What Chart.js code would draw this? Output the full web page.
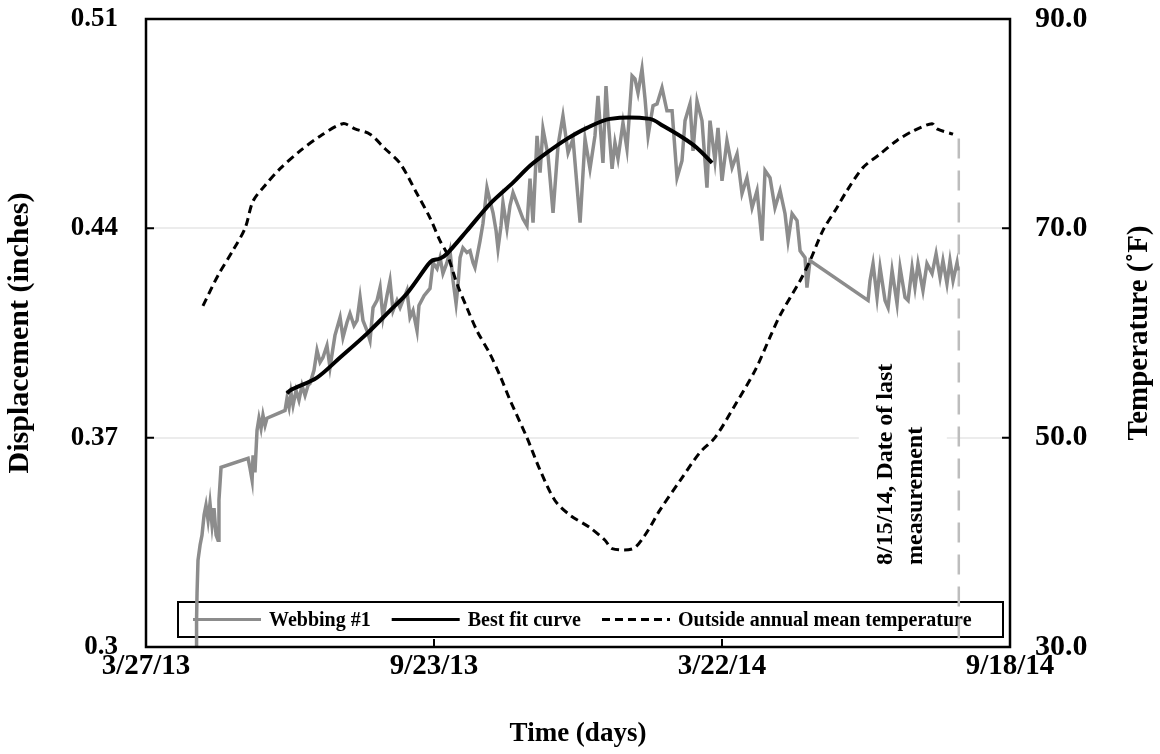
<!DOCTYPE html>
<html>
<head>
<meta charset="utf-8">
<script src="https://cdn.jsdelivr.net/npm/chart.js@4.4.1/dist/chart.umd.min.js"></script>
<style>
  html, body { margin: 0; padding: 0; background: #fff; }
  #wrap { width: 1160px; height: 754px; }
</style>
</head>
<body>
<div id="wrap"><canvas id="chart"></canvas></div>
<script>
// x values are days counted from 3/27/13
const xTickDays = [0, 180, 360, 540];
const xTickLabels = ['3/27/13', '9/23/13', '3/22/14', '9/18/14'];
const yTicks = [0.3, 0.37, 0.44, 0.51];
const y1Ticks = [30, 50, 70, 90];

// Webbing #1 displacement (inches)
const webDays = [
    31.3, 31.6, 31.9, 32.5, 33.8, 35.0, 36.3, 37.5, 38.8, 40.0, 41.3, 42.5, 43.8, 45.0, 45.6, 46.9,
    63.8, 65.0, 66.3, 66.9, 68.1, 69.4, 70.6, 71.9, 73.1, 74.4, 75.6,
    86.9, 88.1, 89.4, 90.6, 91.9, 93.8, 95.6, 97.5, 99.4, 101.3, 102.5,
    105.0, 106.9, 108.8, 110.6, 113.1, 115.0, 118.1, 121.3, 123.1, 125.6, 127.5, 130.0, 131.9, 133.8, 135.6, 138.1, 140.0,
    141.9, 144.4, 146.3, 148.1, 150.6, 152.5, 154.4, 156.9, 158.8, 160.6, 163.1, 165.0, 166.9, 169.4, 170.6, 173.8, 177.5,
    179.4, 181.9, 183.8, 185.6, 188.1, 190.0, 191.9, 193.8, 195.0, 196.3, 198.1, 200.6, 202.5, 204.4, 205.6,
    208.8, 210.6, 213.1, 215.0, 216.9, 218.8, 220.0, 221.9, 223.1, 225.6, 227.5, 229.4, 232.5, 235.6, 238.1,
    240.0, 241.9, 244.4, 246.3, 248.1, 251.3, 254.4, 257.5, 260.6, 263.8, 266.9, 271.3, 274.4, 277.5, 280.6,
    282.5, 285.6, 287.5, 288.8, 291.3, 293.1, 295.0, 298.1, 300.6, 303.8, 305.6, 307.5, 310.0, 311.9, 313.8,
    315.0, 316.9, 319.4, 322.5, 325.6, 328.8, 331.9, 335.0, 336.9, 340.0, 341.9, 344.4, 347.5, 350.6, 352.5,
    355.6, 357.5, 360.0, 363.1, 366.3, 369.4, 372.5, 375.6, 378.8, 381.9, 385.0, 386.9, 390.0, 393.1, 396.3,
    399.4, 401.3, 403.8, 406.9, 408.8, 411.9, 413.1, 415.0,
    451.3, 452.5, 454.4, 456.9, 458.8, 461.9, 463.8, 466.3, 469.4, 471.3, 474.4, 476.3, 478.8,
    480.6, 482.5, 485.6, 488.1, 491.3, 493.8, 496.3, 498.1, 500.6, 502.5, 504.4, 506.9, 507.5
];
const webDisp = [
    0.3000, 0.3090, 0.3180, 0.3290, 0.3341, 0.3374, 0.3441, 0.3474, 0.3424, 0.3481, 0.3407, 0.3464, 0.3374, 0.3357, 0.3491, 0.3601,
    0.3631, 0.3598, 0.3558, 0.3641, 0.3584, 0.3725, 0.3765, 0.3731, 0.3775, 0.3741, 0.3765,
    0.3791, 0.3831, 0.3801, 0.3851, 0.3808, 0.3858, 0.3825, 0.3875, 0.3841, 0.3875, 0.3881,
    0.3925, 0.3992, 0.3952, 0.3968, 0.4008, 0.3935, 0.4042, 0.4102, 0.4035, 0.4085, 0.4115, 0.4075, 0.4092, 0.4169, 0.4092, 0.4058, 0.4025,
    0.4135, 0.4159, 0.4202, 0.4102, 0.4175, 0.4225, 0.4125, 0.4159, 0.4135, 0.4159, 0.4192, 0.4102, 0.4125, 0.4058, 0.4142, 0.4175, 0.4199,
    0.4285, 0.4265, 0.4302, 0.4249, 0.4285, 0.4325, 0.4225, 0.4148, 0.4209, 0.4302, 0.4335, 0.4319, 0.4325, 0.4285, 0.4269,
    0.4359, 0.4416, 0.4536, 0.4492, 0.4452, 0.4392, 0.4332, 0.4409, 0.4486, 0.4399, 0.4476, 0.4519, 0.4476, 0.4432, 0.4409,
    0.4566, 0.4419, 0.4709, 0.4586, 0.4733, 0.4643, 0.4452, 0.4676, 0.4776, 0.4653, 0.4699, 0.4419, 0.4699, 0.4599, 0.4709,
    0.4843, 0.4619, 0.4876, 0.4766, 0.4599, 0.4686, 0.4633, 0.4753, 0.4666, 0.4910, 0.4900, 0.4853, 0.4933, 0.4833, 0.4709,
    0.4749, 0.4810, 0.4816, 0.4870, 0.4793, 0.4793, 0.4569, 0.4626, 0.4760, 0.4816, 0.4659, 0.4826, 0.4760, 0.4536, 0.4760,
    0.4626, 0.4736, 0.4559, 0.4693, 0.4603, 0.4649, 0.4516, 0.4569, 0.4469, 0.4526, 0.4359, 0.4593, 0.4569, 0.4469, 0.4526,
    0.4449, 0.4359, 0.4449, 0.4426, 0.4325, 0.4302, 0.4202, 0.4292,
    0.4159, 0.4225, 0.4282, 0.4169, 0.4269, 0.4159, 0.4135, 0.4259, 0.4148, 0.4269, 0.4169, 0.4159, 0.4269,
    0.4202, 0.4282, 0.4192, 0.4282, 0.4249, 0.4315, 0.4235, 0.4292, 0.4215, 0.4292, 0.4225, 0.4285, 0.4259
];

// Best fit curve
const fitDays = [88.1, 90.0, 106.9, 121.3, 138.1, 152.5, 163.1, 176.3, 178.8, 183.8, 188.1, 200.6,
    215.0, 229.4, 240.0, 250.6, 263.1, 275.6, 290.0, 315.0, 323.1, 335.6, 344.4, 353.8];
const fitDisp = [0.3848, 0.3858, 0.3901, 0.3968, 0.4048, 0.4125, 0.4182, 0.4279, 0.4292, 0.4299, 0.4315, 0.4392,
    0.4482, 0.4553, 0.4609, 0.4653, 0.4699, 0.4736, 0.4766, 0.4766, 0.4743, 0.4703, 0.4669, 0.4619];

// Outside annual mean temperature (F)
const tempDays = [35.6, 45.0, 54.4, 61.9, 66.9, 74.4, 83.8, 96.3, 108.8, 123.1, 130.6, 140.0, 149.4, 158.8, 169.4,
    177.5, 183.8, 188.1, 194.4, 200.6, 206.9, 215.0, 221.3, 227.5, 238.1, 246.3, 255.6, 265.0, 277.5, 286.9,
    291.3, 304.4, 311.9, 321.3, 333.8, 346.3, 355.6, 368.1, 380.6, 390.0, 396.3, 408.8, 415.0, 423.1, 431.9,
    438.1, 448.1, 458.8, 469.4, 479.4, 491.3, 494.4, 504.4];
const tempVals = [62.6, 65.5, 67.9, 70.0, 72.6, 74.1, 75.7, 77.4, 78.8, 80.0, 79.5, 79.0, 77.6, 76.2, 73.3,
    71.0, 68.8, 67.6, 64.7, 62.4, 60.2, 58.0, 55.9, 53.6, 50.0, 46.9, 44.0, 42.6, 41.4, 40.2,
    39.4, 39.4, 40.7, 43.1, 45.9, 48.6, 50.0, 53.1, 56.4, 59.6, 61.7, 65.0, 66.9, 69.8, 72.0,
    73.6, 75.8, 77.1, 78.4, 79.3, 80.0, 79.5, 79.0];

// last measurement marker
const lastDay = 508;
const lastLineDisp = [0.47, 0.3];
const noteLines = ['8/15/14, Date of last', 'measurement'];
const rightTitle = 'Temperature (˚F)';

const FONT = "'Liberation Serif', 'Times New Roman', serif";
const toPoints = (xs, ys) => xs.map((x, i) => ({ x: x, y: ys[i] }));

// keep tick labels from pushing the plot area around
function noScalePadding(s) {
    s.paddingTop = 0;
    s.paddingBottom = 0;
    s.paddingLeft = 0;
    s.paddingRight = 0;
}

// legend box, note, frame and right title are drawn by hand like in the Excel chart
const decorPlugin = {
    id: 'decor',
    beforeDatasetsDraw(chart) {
        const ctx = chart.ctx;
        const area = chart.chartArea;
        const vx = chart.scales.x.getPixelForValue(lastDay);

        // note with white background
        ctx.save();
        ctx.fillStyle = '#fff';
        ctx.fillRect(vx - 100, area.bottom - 295, 88, 226);
        ctx.translate(vx - 73, area.bottom - 82);
        ctx.rotate(-Math.PI / 2);
        ctx.fillStyle = '#000';
        ctx.font = 'bold 24px ' + FONT;
        ctx.textAlign = 'left';
        ctx.textBaseline = 'middle';
        ctx.fillText(noteLines[0], 0, 0);
        ctx.fillText(noteLines[1], 0, 30);
        ctx.restore();

        // legend
        const bx = area.left + 32, by = area.bottom - 45;
        const bw = area.right - 7 - bx, bh = 35;
        ctx.save();
        ctx.fillStyle = '#fff';
        ctx.fillRect(bx, by, bw, bh);
        ctx.strokeStyle = '#000';
        ctx.lineWidth = 2;
        ctx.strokeRect(bx, by, bw, bh);
        ctx.font = 'bold 20px ' + FONT;
        ctx.textBaseline = 'middle';
        ctx.textAlign = 'left';
        let x = bx + 15;
        const cy = by + bh / 2;
        chart.data.datasets.forEach(ds => {
            if (!ds.label) return;
            ctx.beginPath();
            ctx.strokeStyle = ds.borderColor;
            ctx.lineWidth = Math.min(ds.borderWidth, 3);
            ctx.setLineDash(ds.borderDash || []);
            ctx.moveTo(x, cy);
            ctx.lineTo(x + 68, cy);
            ctx.stroke();
            ctx.setLineDash([]);
            x += 76;
            ctx.fillStyle = '#000';
            ctx.fillText(ds.label, x, cy + 1);
            x += ctx.measureText(ds.label).width + 21;
        });
        ctx.restore();
    },
    afterDatasetsDraw(chart) {
        const ctx = chart.ctx;
        const area = chart.chartArea;
        const sx = chart.scales.x, sy = chart.scales.y, sy1 = chart.scales.y1;
        ctx.save();
        ctx.strokeStyle = '#000';
        ctx.lineWidth = 2;
        ctx.beginPath();
        xTickDays.forEach(v => {
            const px = sx.getPixelForValue(v);
            ctx.moveTo(px, area.bottom);
            ctx.lineTo(px, area.bottom - 8);
        });
        yTicks.forEach(v => {
            const py = sy.getPixelForValue(v);
            ctx.moveTo(area.left, py);
            ctx.lineTo(area.left + 8, py);
        });
        y1Ticks.forEach(v => {
            const py = sy1.getPixelForValue(v);
            ctx.moveTo(area.right, py);
            ctx.lineTo(area.right - 8, py);
        });
        ctx.stroke();
        ctx.lineWidth = 2.5;
        ctx.strokeRect(area.left, area.top, area.right - area.left, area.bottom - area.top);

        // right axis title reads upward, as on the left
        ctx.translate(1140, (area.top + area.bottom) / 2);
        ctx.rotate(-Math.PI / 2);
        ctx.fillStyle = '#000';
        ctx.font = 'bold 29px ' + FONT;
        ctx.textAlign = 'center';
        ctx.textBaseline = 'middle';
        ctx.fillText(rightTitle, 0, 0);
        ctx.restore();
    }
};

new Chart(document.getElementById('chart'), {
    type: 'line',
    data: {
        datasets: [
            {
                label: 'Webbing #1',
                data: toPoints(webDays, webDisp),
                borderColor: '#8c8c8c',
                borderWidth: 3.5,
                pointRadius: 0,
                yAxisID: 'y',
                order: 2
            },
            {
                label: 'Best fit curve',
                data: toPoints(fitDays, fitDisp),
                borderColor: '#000',
                borderWidth: 4,
                pointRadius: 0,
                tension: 0.3,
                yAxisID: 'y',
                order: 1
            },
            {
                label: 'Outside annual mean temperature',
                data: toPoints(tempDays, tempVals),
                borderColor: '#000',
                borderWidth: 3,
                borderDash: [8, 5],
                pointRadius: 0,
                tension: 0.3,
                yAxisID: 'y1',
                order: 0
            },
            {
                label: '',
                data: toPoints([lastDay, lastDay], lastLineDisp),
                borderColor: '#bdbdbd',
                borderWidth: 2.5,
                borderDash: [20, 12],
                pointRadius: 0,
                yAxisID: 'y',
                order: 3
            }
        ]
    },
    options: {
        responsive: true,
        maintainAspectRatio: false,
        animation: false,
        layout: { autoPadding: false, padding: { top: 19, left: 0, right: 0, bottom: 0 } },
        plugins: {
            legend: { display: false },
            tooltip: { enabled: false }
        },
        scales: {
            x: {
                type: 'linear',
                min: 0,
                max: 540,
                afterBuildTicks: s => { s.ticks = xTickDays.map(v => ({ value: v })); },
                afterFit: s => { s.height = 107; noScalePadding(s); },
                ticks: {
                    font: { family: FONT, size: 29, weight: 'bold' },
                    color: '#000',
                    padding: -6,
                    maxRotation: 0,
                    autoSkip: false,
                    callback: v => xTickLabels[xTickDays.indexOf(v)]
                },
                grid: { display: false },
                border: { display: false },
                title: { display: true, text: 'Time (days)', font: { family: FONT, size: 27, weight: 'bold' }, color: '#000' }
            },
            y: {
                position: 'left',
                min: 0.3,
                max: 0.51,
                afterBuildTicks: s => { s.ticks = yTicks.map(v => ({ value: v })); },
                afterFit: s => { s.width = 146; noScalePadding(s); },
                ticks: {
                    font: { family: FONT, size: 27, weight: 'bold' },
                    color: '#000',
                    padding: 28,
                    callback: v => String(v)
                },
                grid: { color: '#ececec', lineWidth: 2, drawTicks: false },
                border: { display: false },
                title: { display: true, text: 'Displacement (inches)', font: { family: FONT, size: 30, weight: 'bold' }, color: '#000',
                    padding: { top: 2, bottom: 4 } }
            },
            y1: {
                position: 'right',
                min: 30,
                max: 90,
                afterBuildTicks: s => { s.ticks = y1Ticks.map(v => ({ value: v })); },
                afterFit: s => { s.width = 150; noScalePadding(s); },
                ticks: {
                    font: { family: FONT, size: 30, weight: 'bold' },
                    color: '#000',
                    padding: 25,
                    callback: v => v.toFixed(1)
                },
                grid: { display: false, drawTicks: false },
                border: { display: false },
                title: { display: false }
            }
        }
    },
    plugins: [decorPlugin]
});
</script>
</body>
</html>
